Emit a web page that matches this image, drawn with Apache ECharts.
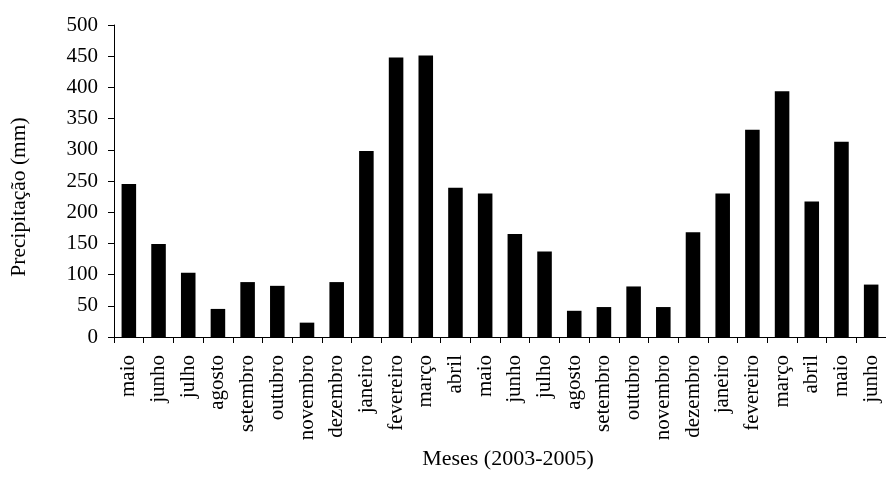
<!DOCTYPE html>
<html>
<head>
<meta charset="utf-8">
<script src="https://cdn.jsdelivr.net/npm/echarts@6/dist/echarts.min.js"></script>
<style>html,body{margin:0;padding:0;background:#fff}#c{width:886px;height:491px}</style>
</head>
<body>
<div id="c"></div>
<script>
var categories = ['maio','junho','julho','agosto','setembro','outubro','novembro','dezembro','janeiro','fevereiro','março','abril','maio','junho','julho','agosto','setembro','outubro','novembro','dezembro','janeiro','fevereiro','março','abril','maio','junho'];
var precipitacao = [245,149,103,45,88,82,23,88,298,448,451,239,230,165,137,42,48,81,48,168,230,332,394,217,313,84];
var yTicks = {min:0, max:500, interval:50};

var chart = echarts.init(document.getElementById('c'));
var font = 'Liberation Serif, Times New Roman, serif';
chart.setOption({
  animation:false,
  grid:{left:114, top:25, bottom:154, right:-8.5, containLabel:false},
  xAxis:{
    type:'category', data:categories, boundaryGap:true,
    name:'Meses (2003-2005)', nameLocation:'middle', nameGap:106,
    nameTextStyle:{fontFamily:font, fontSize:22, color:'#000', padding:[0,0,0,16]},
    axisLine:{lineStyle:{color:'#000', width:1}},
    axisTick:{show:true, length:6, alignWithLabel:false, lineStyle:{color:'#000'}},
    axisLabel:{rotate:90, interval:0, margin:18, fontFamily:font, fontSize:21, color:'#000'},
    splitLine:{show:false}
  },
  yAxis:{
    type:'value', min:yTicks.min, max:yTicks.max, interval:yTicks.interval,
    name:'Precipitação (mm)', nameLocation:'middle', nameGap:84, nameRotate:90,
    nameTextStyle:{fontFamily:font, fontSize:21.5, color:'#000', padding:[0,32,0,0]},
    axisLine:{show:true, lineStyle:{color:'#000', width:1}},
    axisTick:{show:true, length:6, inside:false, lineStyle:{color:'#000'}},
    axisLabel:{margin:16, fontFamily:font, fontSize:21, color:'#000'},
    splitLine:{show:false}
  },
  series:[{type:'bar', data:precipitacao, barCategoryGap:'51%', itemStyle:{color:'#000'}}]
});
</script>
</body>
</html>
